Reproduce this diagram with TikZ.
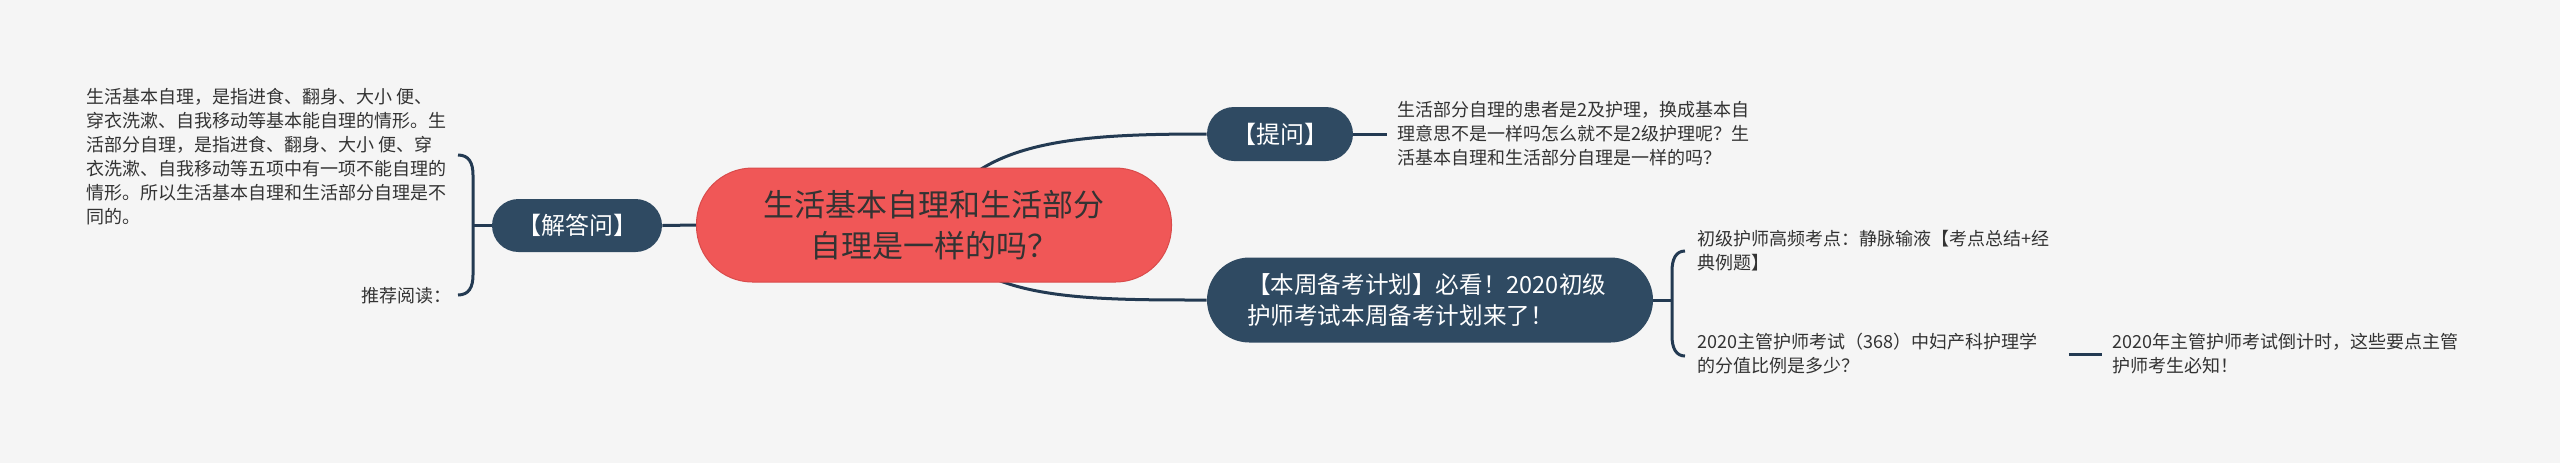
\documentclass[tikz,border=0pt]{standalone}
\usepackage{fontspec}
\setmainfont{Noto Sans CJK SC}
\definecolor{bg}{HTML}{F5F5F5}
\definecolor{navy}{HTML}{2F4A62}
\definecolor{linec}{HTML}{233A52}
\definecolor{rootred}{HTML}{F05757}
\definecolor{rootborder}{HTML}{D94B4B}
\definecolor{txt}{HTML}{333333}
\pgfdeclarelayer{back}
\pgfdeclarelayer{lines}
\pgfsetlayers{back,lines,main}
\begin{document}
\begin{tikzpicture}[x=0.5pt,y=-0.5pt,
  conn/.style={draw=linec,line width=1.5pt},
  topic/.style={fill=navy,text=white,font=\fontsize{12pt}{15.5pt}\selectfont,inner sep=0pt},
  leaf/.style={text=txt,font=\fontsize{9pt}{12pt}\selectfont,align=left,inner sep=0pt}]
\begin{pgfonlayer}{back}
\fill[bg] (0,0) rectangle (2560,463);
\end{pgfonlayer}
\useasboundingbox (0,0) rectangle (2560,463);

% root
\node[fill=rootred,draw=rootborder,line width=0.5pt,rounded corners=28pt,
  minimum width=237.5pt,minimum height=57pt,text=txt,align=center,
  font=\fontsize{15.5pt}{20.5pt}\selectfont,inner sep=0pt] (root) at (934,225)
  {生活基本自理和生活部分\\自理是一样的吗？};

% main topics
\node[topic,rounded corners=13.5pt,minimum width=73pt,minimum height=27pt] (tiwen) at (1280,134) {【提问】};
\node[topic,rounded corners=13.25pt,minimum width=85pt,minimum height=26.5pt] (jieda) at (577,225.5) {【解答问】};
\node[topic,rounded corners=21.25pt,minimum width=223pt,minimum height=42.5pt,
  text width=183pt,align=left,font=\fontsize{11.8pt}{15.5pt}\selectfont] (plan) at (1430,300)
  {【本周备考计划】必看！2020初级\\护师考试本周备考计划来了！};

% leaves
\node[leaf,anchor=west] (ans) at (86,157)
  {生活基本自理，是指进食、翻身、大小 便、\\穿衣洗漱、自我移动等基本能自理的情形。生\\活部分自理，是指进食、翻身、大小 便、穿\\衣洗漱、自我移动等五项中有一项不能自理的\\情形。所以生活基本自理和生活部分自理是不\\同的。};
\node[leaf,anchor=east] (rec) at (452,296) {推荐阅读：};

\node[leaf,anchor=west,inner xsep=5pt] (tq) at (1387,134)
  {生活部分自理的患者是2及护理，换成基本自\\理意思不是一样吗怎么就不是2级护理呢？生\\活基本自理和生活部分自理是一样的吗？};

\node[leaf,anchor=west,text width=185.5pt] (c1) at (1697,251)
  {初级护师高频考点：静脉输液【考点总结+经\\典例题】};
\node[leaf,anchor=west,text width=185.5pt] (c2) at (1697,354)
  {2020主管护师考试（368）中妇产科护理学\\的分值比例是多少？};
\node[leaf,anchor=west,inner xsep=5pt] (gc) at (2102,354)
  {2020年主管护师考试倒计时，这些要点主管\\护师考生必知！};

% bracket coordinates
\coordinate (lbt) at (458,155);
\coordinate (lbb) at (458,295);
\coordinate (lbm) at (473,225.5);
\coordinate (rbt) at (1685,251);
\coordinate (rbb) at (1685,356);
\coordinate (rbm) at (1672,300);

\begin{pgfonlayer}{lines}
\draw[conn] (root.center) .. controls (968,140) and (1075,134) .. (tiwen.west);
\draw[conn] (root.center) .. controls (972,300) and (1075,300) .. (plan.west);
\draw[conn] (jieda.east) -- (root.west);
\draw[conn] (tiwen.east) -- (tq.west);
\draw[conn] (c2.east) -- (gc.west);
% left brace
\draw[conn] (lbt) .. controls (469,155) and (473,163) .. (473,175) -- (473,275)
  .. controls (473,287) and (469,295) .. (lbb);
\draw[conn] (jieda.west) -- (lbm);
% right brace
\draw[conn] (rbt) .. controls (1676,251) and (1672,259) .. (1672,271) -- (1672,336)
  .. controls (1672,348) and (1676,356) .. (rbb);
\draw[conn] (plan.east) -- (rbm);
\end{pgfonlayer}
\end{tikzpicture}
\end{document}
